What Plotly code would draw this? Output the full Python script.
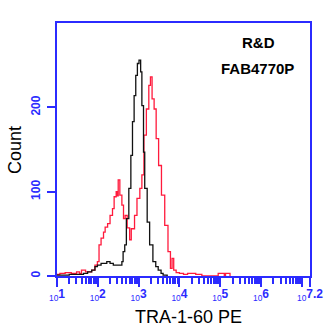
import math
import plotly.graph_objects as go

# Fluorescence channel (log10 of TRA-1-60 PE intensity) and event counts
red_log = [1.00, 1.07, 1.20, 1.35, 1.48, 1.55, 1.60, 1.70, 1.85, 1.93, 1.99, 2.03, 2.08, 2.14,
           2.18, 2.24, 2.30, 2.36, 2.40, 2.45, 2.47, 2.50, 2.54, 2.59, 2.63, 2.67, 2.72, 2.78,
           2.82, 2.90, 2.96, 3.03, 3.08, 3.13, 3.19, 3.25, 3.29, 3.33, 3.38, 3.43, 3.49, 3.56,
           3.64, 3.72, 3.78, 3.82, 3.86, 3.92, 4.00, 4.10, 4.20, 4.40, 4.55, 4.95, 5.10, 5.13,
           5.24]
red_cnt = [2, 3, 4, 3, 5, 3, 7, 5, 7, 13, 17, 37, 45, 52,
           58, 62, 72, 80, 94, 100, 95, 114, 96, 84, 68, 72, 57, 43,
           56, 72, 92, 104, 120, 167, 198, 226, 236, 210, 198, 163, 131, 96,
           60, 29, 9, 21, 7, 4, 3, 2, 3, 2, 0, 3, 0, 3,
           0]

black_log = [1.00, 1.30, 1.50, 1.65, 1.75, 1.85, 1.93, 1.99, 2.08, 2.22, 2.30, 2.38, 2.50, 2.59,
             2.62, 2.66, 2.70, 2.76, 2.81, 2.85, 2.89, 2.93, 2.97, 3.01, 3.05, 3.08, 3.12, 3.15,
             3.21, 3.27, 3.35, 3.42, 3.48, 3.55, 3.60, 3.70]
black_cnt = [1, 2, 2, 3, 5, 7, 11, 13, 15, 17, 15, 13, 13, 17,
             29, 37, 68, 104, 143, 183, 214, 238, 252, 256, 242, 202, 147, 104,
             64, 37, 17, 11, 7, 3, 1, 0]

major_exp = [1, 2, 3, 4, 5, 6, 7, 7.2]
major_lbl = ["1", "2", "3", "4", "5", "6", "", "7.2"]
count_ticks = [0, 100, 200]

major_txt = [("<sub>10</sub><b>" + s + "</b>") if s else "" for s in major_lbl]
minor_pos = [d + math.log10(k) for d in range(1, 8) for k in range(2, 10) if d + math.log10(k) < 7.2]

BLUE = "#2b2bff"
FONT = "Liberation Sans"

# plot area in pixels
plot_l, plot_r, plot_t, plot_b = 57, 310, 23, 276
W, H = 335, 336


def px_to_paper(x, y):
    return (x - plot_l) / (plot_r - plot_l), (plot_b - y) / (plot_b - plot_t)


fig = go.Figure()
fig.add_trace(go.Scatter(x=red_log, y=red_cnt, mode="lines", line_shape="hv",
                         line=dict(color="#ff1a3c", width=1.3), showlegend=False))
fig.add_trace(go.Scatter(x=black_log, y=black_cnt, mode="lines", line_shape="hv",
                         line=dict(color="#111111", width=1.3), showlegend=False))

for txt, (px, py) in [("<b>R&amp;D</b>", (258, 42)), ("<b>FAB4770P</b>", (257, 69))]:
    ax, ay = px_to_paper(px, py)
    fig.add_annotation(x=ax, y=ay, xref="paper", yref="paper", text=txt,
                       xanchor="center", yanchor="middle", showarrow=False,
                       font=dict(family=FONT, size=15, color="black"))

tx, ty = px_to_paper(188, 317)
fig.add_annotation(x=tx, y=ty, xref="paper", yref="paper", text="TRA-1-60 PE",
                   xanchor="center", yanchor="middle", showarrow=False,
                   font=dict(family=FONT, size=18, color="black"))
cx, cy = px_to_paper(15, 150)
fig.add_annotation(x=cx, y=cy, xref="paper", yref="paper", text="Count", textangle=-90,
                   xanchor="center", yanchor="middle", showarrow=False,
                   font=dict(family=FONT, size=18, color="black"))

fig.update_layout(
    width=W, height=H,
    margin=dict(l=plot_l, r=W - plot_r, t=plot_t, b=H - plot_b, autoexpand=False),
    paper_bgcolor="white", plot_bgcolor="white",
    font=dict(family=FONT),
    xaxis=dict(range=[1, 7.2], showgrid=False, zeroline=False, automargin=False,
               showline=True, linecolor=BLUE, linewidth=2, mirror=True,
               tickmode="array", tickvals=major_exp, ticktext=major_txt,
               ticks="outside", ticklen=9, tickwidth=1.5, tickcolor=BLUE,
               ticklabelstandoff=-3,
               tickfont=dict(family=FONT, size=12, color=BLUE),
               minor=dict(tickmode="array", tickvals=minor_pos, ticks="outside",
                          ticklen=6, tickwidth=1.5, tickcolor=BLUE, showgrid=False)),
    yaxis=dict(range=[0, 300], showgrid=False, zeroline=False, automargin=False,
               showline=True, linecolor=BLUE, linewidth=2, mirror=True,
               tickmode="array", tickvals=count_ticks,
               ticktext=["<b>%d</b>" % v for v in count_ticks],
               ticks="outside", ticklen=8, tickwidth=1.5, tickcolor=BLUE, tickangle=-90,
               ticklabelstandoff=2,
               tickfont=dict(family=FONT, size=12, color=BLUE)),
)

fig.write_html("out.html")
